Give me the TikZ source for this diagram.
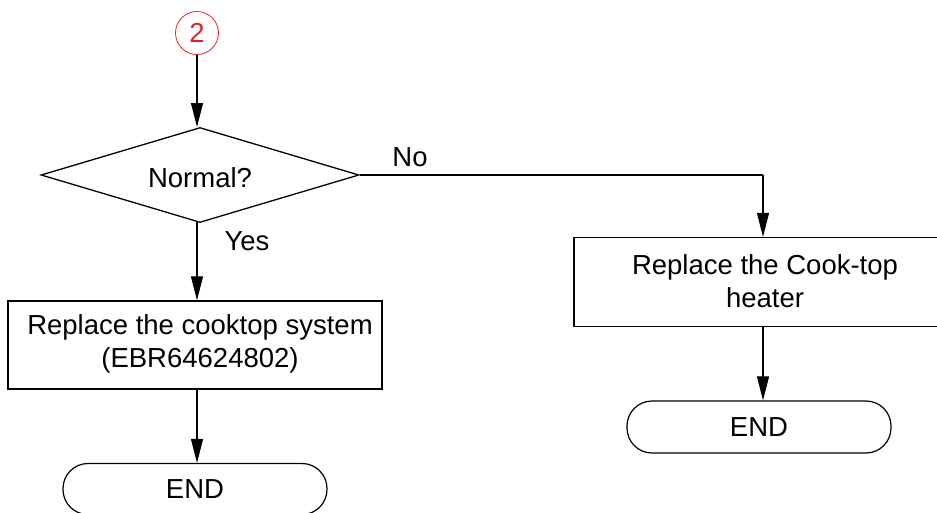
\documentclass[tikz,border=0pt]{standalone}
\usepackage{fontspec}
\setmainfont{Liberation Sans}
\usetikzlibrary{shapes.geometric,arrows.meta}
\definecolor{myred}{RGB}{232,30,40}
\begin{document}
\begin{tikzpicture}[x=1pt,y=-1pt,
  every node/.style={font=\fontsize{27.5}{33}\selectfont},
  box/.style={draw,line width=1.3pt,inner sep=0pt,align=center},
  term/.style={draw,line width=1.2pt,rounded corners=25pt,inner sep=0pt},
  conn/.style={line width=1.1pt,-{Triangle[length=24pt,width=12pt]}},
  lbl/.style={inner sep=0pt}]
\useasboundingbox (0,0) rectangle (937,512);
\clip (0,0) rectangle (937,512);
\node[circle,draw=myred,line width=0.8pt,minimum size=43pt,inner sep=0pt,text=myred] (c2) at (197,33) {2};
\node[diamond,draw,line width=1.3pt,minimum width=318pt,minimum height=95pt,aspect=3.35,inner sep=0pt] (dec) at (200,175) {};
\node[lbl] (dect) at (200,178) {Normal?};
\node[box,minimum width=374pt,minimum height=88pt] (b1) at (195,345) {};
\node[lbl,align=center] (b1t) at (200,344) {Replace the cooktop system\\(EBR64624802)};
\node[box,minimum width=378pt,minimum height=89pt] (b2) at (763,282) {};
\node[lbl,align=center] (b2t) at (765,281) {Replace the Cook-top\\heater};
\node[term,minimum width=264pt,minimum height=51pt] (e1) at (195,489) {END};
\node[term,minimum width=264pt,minimum height=52pt] (e2) at (759,427) {END};
\coordinate (bend) at (763,175);
\draw[conn] (c2.south) -- (197,127);
\draw[conn] (197,222) -- (b1.north -| 197,0);
\draw[conn] (197,389) -- (e1.north -| 197,0);
\draw[line width=1.1pt] (dec.east) -- (bend);
\draw[conn] (bend) -- (b2.north -| bend);
\draw[conn] (763,326) -- (e2.north -| 763,0);
\node[lbl] (no) at (410,157) {No};
\node[lbl] (yes) at (247,241) {Yes};
\end{tikzpicture}
\end{document}
